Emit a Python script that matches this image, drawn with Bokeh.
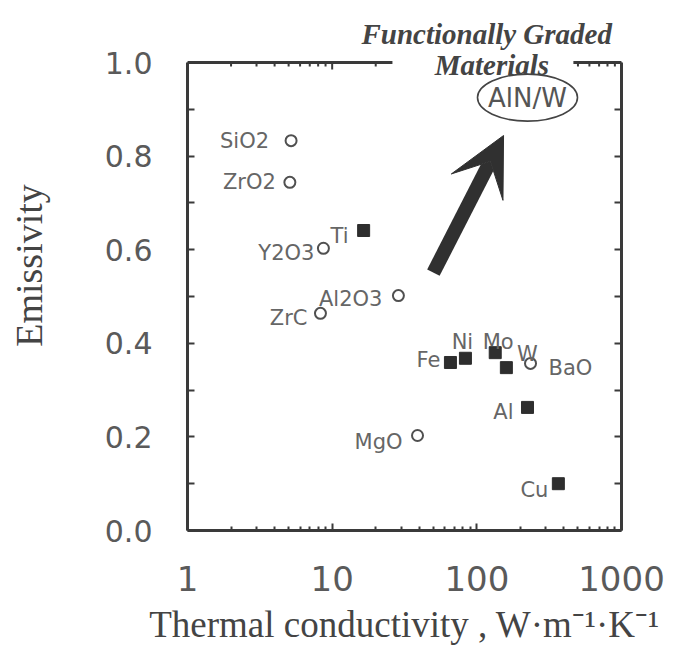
import math
from bokeh.plotting import figure
from bokeh.models import (ColumnDataSource, LinearAxis, FixedTicker, Arrow, VeeHead,
                          PrintfTickFormatter)
from bokeh.embed import file_html
from bokeh.resources import INLINE
from bokeh.core.properties import value, field

# ---------------- data ----------------
ceramic_names = ["SiO2", "ZrO2", "Y2O3", "Al2O3", "ZrC", "BaO", "MgO"]
ceramic_k = [5.2, 5.1, 8.7, 28.7, 8.3, 235, 38.9]          # W/(m K)
ceramic_e = [0.833, 0.744, 0.603, 0.502, 0.464, 0.357, 0.203]

metal_names = ["Ti", "Fe", "Ni", "Mo", "W", "Al", "Cu"]
metal_k = [16.5, 65.7, 83.4, 134, 160, 224, 366]
metal_e = [0.641, 0.359, 0.368, 0.380, 0.348, 0.263, 0.100]

fgm_names = ["AlN/W"]
fgm_k = [224]
fgm_e = [0.925]

x_ticks = [1, 10, 100, 1000]
x_minor_ticks = [m * d for d in (1, 10, 100) for m in range(2, 10)]
y_ticks = [0.0, 0.2, 0.4, 0.6, 0.8, 1.0]
y_minor_ticks = [0.1, 0.3, 0.5, 0.7, 0.9]

# ---------------- layout constants ----------------
W, H = 670, 651
FRAME_L, FRAME_R, FRAME_B = 187, 621, 530     # frame edges (px)
PX_PER_UNIT = 468                              # emissivity 0 -> 1 spans 468 px
Y_TOP = FRAME_B / PX_PER_UNIT                  # frame reaches the top of the canvas
TOP_GAP = (26.1, 465)                          # gap in the top border behind "Materials"
arrow_from = (50.1, 0.551)
arrow_to = (153, 0.844)
title_pos = (117, 1.0600)
materials_pos = (127.2, 0.9936)

label_layout = {   # align, x offset px, y offset px
    "SiO2": ("right", -22, 0),
    "ZrO2": ("right", -14, 0),
    "Y2O3": ("right", -9, 5),
    "Al2O3": ("right", -16, 3),
    "ZrC": ("right", -13, 5),
    "BaO": ("left", 18, 5),
    "MgO": ("right", -15, 7),
    "Ti": ("right", -15, 5),
    "Fe": ("right", -10, -2),
    "Ni": ("center", -3, -16),
    "Mo": ("center", 3, -11),
    "W": ("center", 21, -14),
    "Al": ("right", -14, 5),
    "Cu": ("right", -10, 6),
}

SANS = "DejaVu Sans"
SERIF = "Liberation Serif"
DARK = "#3a3a3a"
GRAY = "#5a5a5a"

p = figure(width=W, height=H, x_axis_type="log", x_range=(1, 1000), y_range=(0, Y_TOP),
           y_axis_location=None, output_backend="svg", toolbar_location=None,
           min_border_left=FRAME_L, min_border_right=W - FRAME_R, min_border_top=0,
           min_border_bottom=H - FRAME_B)
p.outline_line_color = None
p.xgrid.grid_line_color = None
p.ygrid.grid_line_color = None


def style_axis(ax, minor_len):
    ax.axis_line_width = 3
    ax.axis_line_color = DARK
    ax.major_tick_in = 7
    ax.major_tick_out = 0
    ax.major_tick_line_width = 2
    ax.major_tick_line_color = DARK
    ax.minor_tick_in = minor_len
    ax.minor_tick_out = 0
    ax.minor_tick_line_width = 2
    ax.minor_tick_line_color = DARK


xa = p.xaxis[0]
xa.ticker = FixedTicker(ticks=x_ticks, minor_ticks=x_minor_ticks)
xa.formatter = PrintfTickFormatter(format="%d")
style_axis(xa, 4)
xa.major_label_text_font = SANS
xa.major_label_text_font_size = "34px"
xa.major_label_text_color = GRAY
xa.major_label_standoff = 35
xa.axis_label = "Thermal conductivity , W\u00b7m\u207b\u00b9\u00b7K\u207b\u00b9"
xa.axis_label_text_font = SERIF
xa.axis_label_text_font_style = "normal"
xa.axis_label_text_font_size = "37px"
xa.axis_label_text_color = "#444444"
xa.axis_label_standoff = 10

ya = LinearAxis(ticker=FixedTicker(ticks=y_ticks, minor_ticks=y_minor_ticks),
                formatter=PrintfTickFormatter(format="%.1f"), bounds=(0, 1))
style_axis(ya, 7)
ya.major_label_text_font = SANS
ya.major_label_text_font_size = "30px"
ya.major_label_text_color = GRAY
ya.major_label_standoff = 35
ya.axis_label = "Emissivity"
ya.axis_label_text_font = SERIF
ya.axis_label_text_font_style = "normal"
ya.axis_label_text_font_size = "38px"
ya.axis_label_text_color = "#444444"
ya.axis_label_standoff = 52
p.add_layout(ya, "left")

right = LinearAxis(ticker=FixedTicker(ticks=y_ticks, minor_ticks=y_minor_ticks),
                   bounds=(0, 1), major_label_text_font_size="8px",
                   major_label_text_color=None, major_label_standoff=0)
style_axis(right, 7)
p.add_layout(right, "right")

# ---------------- top border (broken behind "Materials") ----------------
p.segment(x0=[x_ticks[0], TOP_GAP[1]], y0=[1.0, 1.0], x1=[TOP_GAP[0], x_ticks[-1]], y1=[1.0, 1.0],
          line_color=DARK, line_width=3)
top_major = [t for t in x_ticks if t < TOP_GAP[0] or t > TOP_GAP[1]]
top_minor = [t for t in x_minor_ticks if t < TOP_GAP[0] or t > TOP_GAP[1]]
p.segment(x0=top_major, x1=top_major, y0=[1.0] * len(top_major),
          y1=[1.0 - 7 / PX_PER_UNIT] * len(top_major), line_color=DARK, line_width=2)
p.segment(x0=top_minor, x1=top_minor, y0=[1.0] * len(top_minor),
          y1=[1.0 - 4 / PX_PER_UNIT] * len(top_minor), line_color=DARK, line_width=2)

# ---------------- points ----------------
cer = ColumnDataSource(dict(x=ceramic_k, y=ceramic_e, name=ceramic_names))
met = ColumnDataSource(dict(x=metal_k, y=metal_e, name=metal_names))

p.scatter("x", "y", source=cer, marker="circle", size=11, fill_color="white",
          line_color="#505050", line_width=2)
p.scatter("x", "y", source=met, marker="square", size=12, fill_color="#2e2e2e",
          line_color="#2e2e2e", line_width=1)

names = ceramic_names + metal_names
lab = ColumnDataSource(dict(
    x=ceramic_k + metal_k,
    y=ceramic_e + metal_e,
    name=names,
    align=[label_layout[n][0] for n in names],
    xo=[label_layout[n][1] for n in names],
    yo=[label_layout[n][2] for n in names],
))
p.text(x="x", y="y", text="name", source=lab, text_align=field("align"),
       x_offset=field("xo"), y_offset=field("yo"), text_baseline="middle",
       text_font=value(SANS), text_font_size="21px", text_color="#666666")

# ---------------- FGM annotation ----------------
p.ellipse(x=fgm_k, y=fgm_e, width=100, height=47, width_units="screen", height_units="screen",
          fill_color=None, line_color="#444444", line_width=1.6)
p.text(x=fgm_k, y=fgm_e, text=fgm_names, text_align="center", text_baseline="middle",
       text_font=value(SANS), text_font_size="26px", text_color="#555555")

p.add_layout(Arrow(end=VeeHead(size=58, fill_color="#303030", line_color="#303030", line_width=1),
                   x_start=arrow_from[0], y_start=arrow_from[1],
                   x_end=arrow_to[0], y_end=arrow_to[1],
                   line_width=14, line_color="#303030"))

p.text(x=[title_pos[0], materials_pos[0]], y=[title_pos[1], materials_pos[1]],
       text=["Functionally Graded", "Materials"], text_align="center",
       text_baseline="alphabetic", text_font=value(SERIF), text_font_style="bold italic",
       text_font_size="29px", text_color="#444444")

open("out.html", "w").write(file_html(p, INLINE))
